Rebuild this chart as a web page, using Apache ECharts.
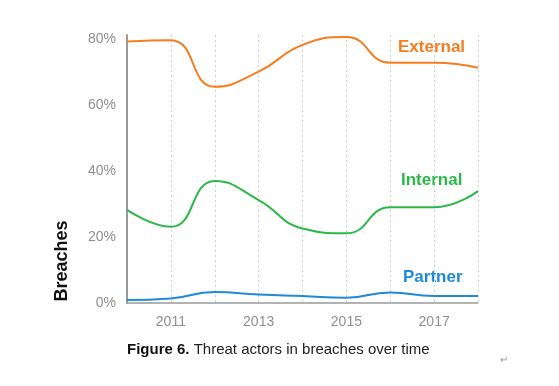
<!DOCTYPE html>
<html>
<head>
<meta charset="utf-8">
<script src="https://cdn.jsdelivr.net/npm/echarts@6/dist/echarts.min.js"></script>
<style>
html,body{margin:0;padding:0;background:#fff;}
#chart{width:559px;height:386px;}
</style>
</head>
<body>
<div id="chart"></div>
<script>
const years = ['2010','2011','2012','2013','2014','2015','2016','2017','2018'];
const external = [79.2, 79.6, 65.5, 70.1, 78.2, 80.6, 72.8, 72.8, 71.3];
const internal = [28.2, 23.1, 37.0, 31.2, 22.6, 21.1, 29.0, 29.0, 33.9];
const partner = [0.9, 1.4, 3.3, 2.6, 2.1, 1.6, 3.2, 2.1, 2.1];
const yTicks = [0, 20, 40, 60, 80];
const seriesNames = ['External', 'Internal', 'Partner'];
const colors = ['#F47D20', '#2DB84B', '#1F8AD7'];
const yTitle = 'Breaches';
const captionBold = 'Figure 6.';
const captionRest = ' Threat actors in breaches over time';

const chart = echarts.init(document.getElementById('chart'), null, {renderer: 'canvas'});
const font = 'Liberation Sans, Arial, Helvetica, sans-serif';
function mk(name, data, color) {
  return {
    name: name, type: 'line', data: data, smooth: 0.5,
    symbol: 'none', lineStyle: {color: color, width: 2}, itemStyle: {color: color}
  };
}
chart.setOption({
  animation: false,
  backgroundColor: '#fff',
  grid: {left: 127, right: 81, top: 35, bottom: 83},
  xAxis: {
    type: 'category', data: years, boundaryGap: false,
    axisLine: {show: true, lineStyle: {color: '#9a9a9a', width: 1.5}},
    axisTick: {show: false},
    axisLabel: {
      interval: function (i) { return i % 2 === 1; },
      color: '#8f8f8f', fontSize: 14, fontFamily: font, margin: 12
    },
    splitLine: {show: true, interval: 0, lineStyle: {color: '#d0d0d0', type: [2, 3], width: 1}}
  },
  yAxis: {
    type: 'value', min: 0, max: 81.2, interval: 20,
    axisLine: {show: true, lineStyle: {color: '#9a9a9a', width: 2}},
    axisTick: {show: false},
    splitLine: {show: false},
    axisLabel: {
      color: '#8f8f8f', fontSize: 14, fontFamily: font, margin: 11,
      formatter: function (v) { return yTicks.indexOf(v) >= 0 ? v + '%' : ''; }
    }
  },
  series: [
    mk(seriesNames[0], external, colors[0]),
    mk(seriesNames[1], internal, colors[1]),
    mk(seriesNames[2], partner, colors[2])
  ],
  graphic: [
    {type: 'text', x: 62, y: 261, rotation: Math.PI / 2, style: {
      text: yTitle, fill: '#111', font: 'bold 18px ' + font, align: 'center', verticalAlign: 'middle'
    }},
    {type: 'text', left: 398, top: 39, style: {text: seriesNames[0], fill: colors[0], font: 'bold 17px ' + font}},
    {type: 'text', left: 401, top: 172, style: {text: seriesNames[1], fill: colors[1], font: 'bold 17px ' + font}},
    {type: 'text', left: 403, top: 269, style: {text: seriesNames[2], fill: colors[2], font: 'bold 17px ' + font}},
    {type: 'text', left: 127, top: 342, style: {
      text: '{b|' + captionBold + '}{r|' + captionRest + '}',
      rich: {
        b: {fill: '#111', fontWeight: 'bold', fontSize: 15, fontFamily: font},
        r: {fill: '#222', fontSize: 15, fontFamily: font}
      }
    }},
    {type: 'text', left: 500, top: 355, style: {text: '\u21B5', fill: '#999', font: '10px ' + font}}
  ]
});
</script>
</body>
</html>
